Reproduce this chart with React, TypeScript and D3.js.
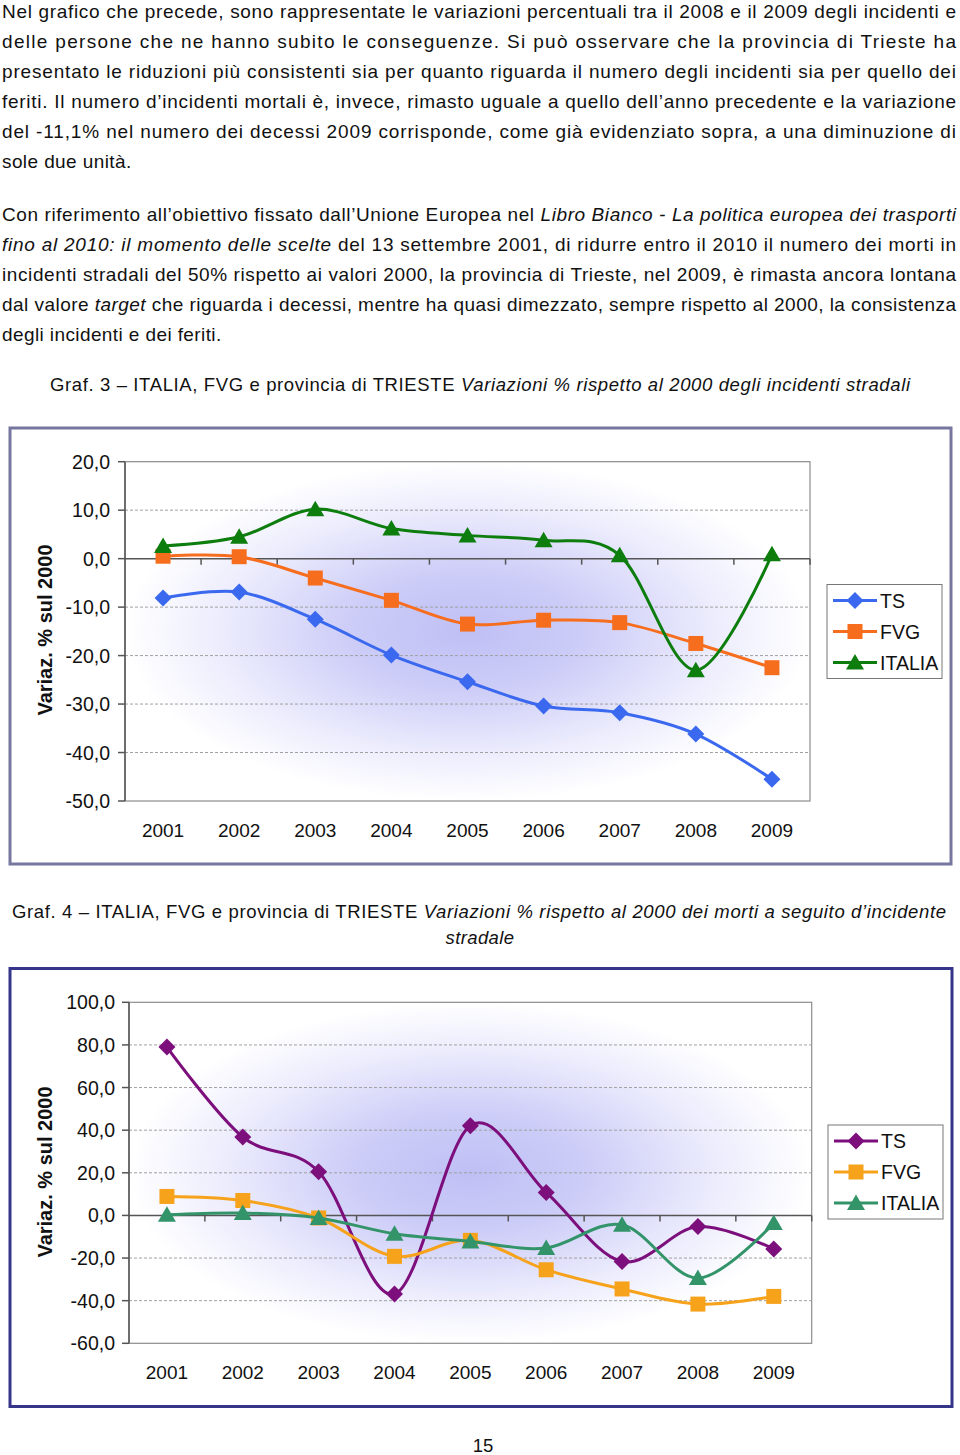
import React from 'react';
import * as d3 from 'd3';

type Seg = [string, boolean];

const years = ['2001', '2002', '2003', '2004', '2005', '2006', '2007', '2008', '2009'];
const seriesNames = ['TS', 'FVG', 'ITALIA'];

// Graf. 3 – incidenti
const g3TS = [-8.1, -6.9, -12.5, -19.9, -25.4, -30.4, -31.8, -36.2, -45.5];
const g3FVG = [0.5, 0.4, -4.0, -8.6, -13.5, -12.7, -13.2, -17.5, -22.5];
const g3IT = [2.6, 4.5, 10.2, 6.2, 4.8, 3.8, 0.7, -23.0, 0.9];
const g3Ticks = [-50, -40, -30, -20, -10, 0, 10, 20];

// Graf. 4 – morti
const g4TS = [79.0, 36.8, 20.5, -36.9, 42.1, 10.8, -21.6, -5.2, -15.8];
const g4FVG = [8.9, 7.0, -1.2, -19.2, -11.7, -25.5, -34.5, -41.6, -38.0];
const g4IT = [0.3, 1.1, -1.2, -8.6, -12.2, -15.3, -4.4, -29.4, -3.6];
const g4Ticks = [-60, -40, -20, 0, 20, 40, 60, 80, 100];

const para1: Seg[][] = [
  [['Nel grafico che precede, sono rappresentate le variazioni percentuali tra il 2008 e il 2009 degli incidenti e', false]],
  [['delle persone che ne hanno subito le conseguenze. Si può osservare che la provincia di Trieste ha', false]],
  [['presentato le riduzioni più consistenti sia per quanto riguarda il numero degli incidenti sia per quello dei', false]],
  [['feriti. Il numero d’incidenti mortali è, invece, rimasto uguale a quello dell’anno precedente e la variazione', false]],
  [['del -11,1% nel numero dei decessi 2009 corrisponde, come già evidenziato sopra, a una diminuzione di', false]],
  [['sole due unità.', false]],
];
const para2: Seg[][] = [
  [['Con riferimento all’obiettivo fissato dall’Unione Europea nel ', false], ['Libro Bianco - La politica europea dei trasporti', true]],
  [['fino al 2010: il momento delle scelte', true], [' del 13 settembre 2001, di ridurre entro il 2010 il numero dei morti in', false]],
  [['incidenti stradali del 50% rispetto ai valori 2000, la provincia di Trieste, nel 2009, è rimasta ancora lontana', false]],
  [['dal valore ', false], ['target', true], [' che riguarda i decessi, mentre ha quasi dimezzato, sempre rispetto al 2000, la consistenza', false]],
  [['degli incidenti e dei feriti.', false]],
];
const caption3: Seg[] = [['Graf. 3 – ITALIA, FVG e provincia di TRIESTE ', false], ['Variazioni % rispetto al 2000 degli incidenti stradali', true]];
const caption4a: Seg[] = [['Graf. 4 – ITALIA, FVG e provincia di TRIESTE ', false], ['Variazioni % rispetto al 2000 dei morti a seguito d’incidente', true]];
const caption4b: Seg[] = [['stradale', true]];

const FONT = '"Liberation Sans", Arial, Helvetica, sans-serif';
const locale = d3.formatLocale({ decimal: ',', thousands: '.', grouping: [3], currency: ['', '€'], minus: '-' });
const fmt = locale.format('.1f');

function TextLine(props: { segs: Seg[]; x: number; y: number; width?: number; size?: number; spacing?: number; anchor?: string }) {
  const { segs, x, y, width, size = 19, spacing = 0.4, anchor = 'start' } = props;
  return (
    <text
      x={x}
      y={y}
      fontFamily={FONT}
      fontSize={size}
      fill="#111"
      textAnchor={anchor}
      textLength={width}
      lengthAdjust={width ? 'spacing' : undefined}
      letterSpacing={width ? undefined : spacing}
      style={{ whiteSpace: 'pre' }}
    >
      {segs.map((s, i) => (
        <tspan key={i} fontStyle={s[1] ? 'italic' : 'normal'}>{s[0]}</tspan>
      ))}
    </text>
  );
}

type Shape = 'diamond' | 'square' | 'triangle';

function markerPath(shape: Shape, cx: number, cy: number): string {
  if (shape === 'diamond') return `M${cx},${cy - 8.5}L${cx + 8.5},${cy}L${cx},${cy + 8.5}L${cx - 8.5},${cy}Z`;
  if (shape === 'square') return `M${cx - 7.5},${cy - 7.5}h15v15h-15Z`;
  return `M${cx},${cy - 8.5}L${cx + 9},${cy + 7}L${cx - 9},${cy + 7}Z`;
}

interface Series { name: string; values: number[]; color: string; shape: Shape }

interface ChartProps {
  id: string;
  frame: { x: number; y: number; w: number; h: number; color: string };
  plot: { left: number; top: number; right: number; bottom: number };
  ticks: number[];
  series: Series[];
  legend: { x: number; y: number; w: number; h: number };
  titleCenterY: number;
  tickLabelRight: number;
  xLabelY: number;
}

function Chart(p: ChartProps) {
  const { plot, ticks } = p;
  const x = d3.scaleBand<string>().domain(years).range([plot.left, plot.right]);
  const cx = (yr: string) => (x(yr) as number) + x.bandwidth() / 2;
  const y = d3.scaleLinear().domain([ticks[0], ticks[ticks.length - 1]]).range([plot.bottom, plot.top]);
  const line = d3
    .line<number>()
    .x((_, i) => cx(years[i]))
    .y((v) => y(v))
    .curve(d3.curveCatmullRom.alpha(0));
  const gid = `grad-${p.id}`;
  const y0 = y(0);
  return (
    <g>
      <defs>
        <radialGradient id={gid} cx="0.5" cy="0.5" r="0.5">
          <stop offset="0" stopColor="#bfbff5" />
          <stop offset="0.35" stopColor="#cdcdf8" />
          <stop offset="0.72" stopColor="#ececfd" />
          <stop offset="1" stopColor="#ffffff" />
        </radialGradient>
      </defs>
      <rect x={p.frame.x} y={p.frame.y} width={p.frame.w} height={p.frame.h} fill="#fff" stroke={p.frame.color} strokeWidth={3} />
      <rect x={plot.left} y={plot.top} width={plot.right - plot.left} height={plot.bottom - plot.top} fill={`url(#${gid})`} stroke="#8c8c8c" strokeWidth={1.2} />
      {ticks.filter((t) => t !== 0 && t !== ticks[0] && t !== ticks[ticks.length - 1]).map((t) => (
        <line key={t} x1={plot.left} x2={plot.right} y1={y(t)} y2={y(t)} stroke="#a0a0a0" strokeWidth={1} strokeDasharray="3,2" />
      ))}
      <line x1={plot.left} x2={plot.left} y1={plot.top} y2={plot.bottom} stroke="#555" strokeWidth={1.5} />
      {ticks.map((t) => (
        <g key={t}>
          <line x1={plot.left - 7} x2={plot.left} y1={y(t)} y2={y(t)} stroke="#555" strokeWidth={1.5} />
          <text x={p.tickLabelRight} y={y(t) + 7} textAnchor="end" fontFamily={FONT} fontSize={19.5} fill="#111">{fmt(t)}</text>
        </g>
      ))}
      <line x1={plot.left} x2={plot.right} y1={y0} y2={y0} stroke="#555" strokeWidth={1.5} />
      {years.map((yr) => (
        <line key={yr} x1={(x(yr) as number) + x.bandwidth()} x2={(x(yr) as number) + x.bandwidth()} y1={y0} y2={y0 + 6} stroke="#555" strokeWidth={1.5} />
      ))}
      {years.map((yr) => (
        <text key={yr} x={cx(yr)} y={p.xLabelY} textAnchor="middle" fontFamily={FONT} fontSize={19} fill="#111">{yr}</text>
      ))}
      <text
        transform={`translate(${p.frame.x + 42},${p.titleCenterY}) rotate(-90)`}
        textAnchor="middle"
        fontFamily={FONT}
        fontWeight="bold"
        fontSize={20}
        fill="#111"
      >
        Variaz. % sul 2000
      </text>
      {p.series.map((s) => (
        <g key={s.name}>
          <path d={line(s.values) || ''} fill="none" stroke={s.color} strokeWidth={3} />
          {s.values.map((v, i) => (
            <path key={i} d={markerPath(s.shape, cx(years[i]), y(v))} fill={s.color} />
          ))}
        </g>
      ))}
      <rect x={p.legend.x} y={p.legend.y} width={p.legend.w} height={p.legend.h} fill="#fff" stroke="#777" strokeWidth={1} />
      {p.series.map((s, i) => {
        const ly = p.legend.y + 16 + i * 31;
        return (
          <g key={s.name}>
            <line x1={p.legend.x + 6} x2={p.legend.x + 50} y1={ly} y2={ly} stroke={s.color} strokeWidth={3} />
            <path d={markerPath(s.shape, p.legend.x + 28, ly)} fill={s.color} />
            <text x={p.legend.x + 53} y={ly + 7} fontFamily={FONT} fontSize={19.5} fill="#111">{s.name}</text>
          </g>
        );
      })}
    </g>
  );
}

export default function App() {
  const s3: Series[] = [
    { name: seriesNames[0], values: g3TS, color: '#3a68ee', shape: 'diamond' },
    { name: seriesNames[1], values: g3FVG, color: '#f76d1e', shape: 'square' },
    { name: seriesNames[2], values: g3IT, color: '#0d7d0d', shape: 'triangle' },
  ];
  const s4: Series[] = [
    { name: seriesNames[0], values: g4TS, color: '#7c0f7c', shape: 'diamond' },
    { name: seriesNames[1], values: g4FVG, color: '#f7a21b', shape: 'square' },
    { name: seriesNames[2], values: g4IT, color: '#33946a', shape: 'triangle' },
  ];
  return (
    <svg width={960} height={1455} style={{ position: 'absolute', left: 0, top: 0, background: '#fff' }}>
      <rect x={0} y={0} width={960} height={1455} fill="#fff" />
      {para1.map((segs, i) => (
        <TextLine key={i} segs={segs} x={2} y={18 + i * 30} width={i < para1.length - 1 ? 954 : undefined} />
      ))}
      {para2.map((segs, i) => (
        <TextLine key={i} segs={segs} x={2} y={221 + i * 30} width={i < para2.length - 1 ? 954 : undefined} />
      ))}
      <TextLine segs={caption3} x={50} y={391} width={860} size={18.5} />
      <Chart
        id="g3"
        frame={{ x: 10, y: 428, w: 941, h: 436, color: '#76769f' }}
        plot={{ left: 125, top: 461.7, right: 810, bottom: 801 }}
        ticks={g3Ticks}
        series={s3}
        legend={{ x: 827, y: 584.5, w: 115, h: 94 }}
        titleCenterY={630}
        tickLabelRight={110}
        xLabelY={837}
      />
      <TextLine segs={caption4a} x={12} y={918} width={934} size={18.5} />
      <TextLine segs={caption4b} x={480} y={944} size={18.5} spacing={0.4} anchor="middle" />
      <Chart
        id="g4"
        frame={{ x: 10, y: 968.5, w: 942, h: 438, color: '#35358a' }}
        plot={{ left: 129, top: 1002.3, right: 811.7, bottom: 1343.3 }}
        ticks={g4Ticks}
        series={s4}
        legend={{ x: 828, y: 1125, w: 115, h: 94 }}
        titleCenterY={1172}
        tickLabelRight={115}
        xLabelY={1379}
      />
      <text x={483} y={1452} textAnchor="middle" fontFamily={FONT} fontSize={18.5} fill="#111">15</text>
    </svg>
  );
}
